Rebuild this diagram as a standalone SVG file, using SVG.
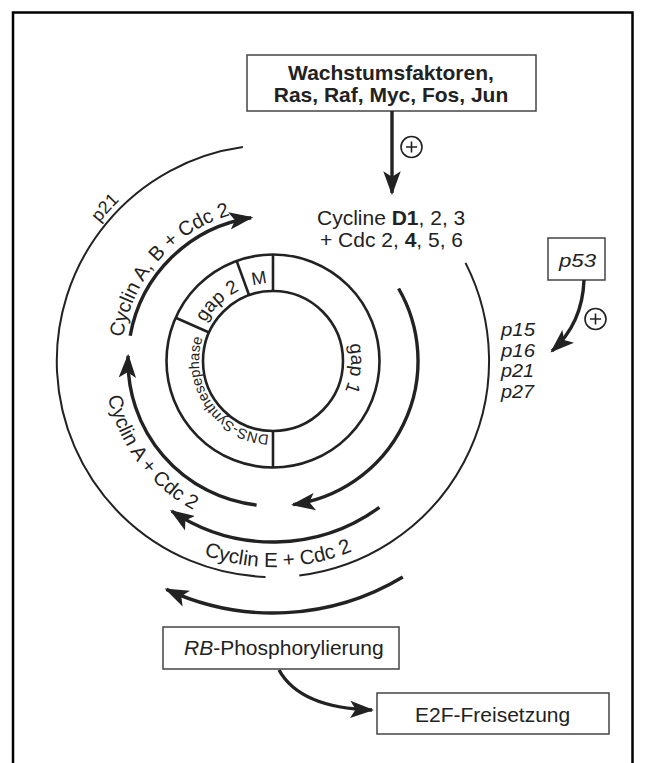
<svg xmlns="http://www.w3.org/2000/svg" width="645" height="763" viewBox="0 0 645 763">
<style>
text{font-family:"Liberation Sans",Arial,"DejaVu Sans",sans-serif;fill:#222}
.box{fill:#fff;stroke:#444;stroke-width:1.5}
.ring{fill:none;stroke:#222;stroke-width:2.6}
.arr{fill:none;stroke:#222;stroke-width:3.4;marker-end:url(#ah)}
.thin{fill:none;stroke:#222;stroke-width:2}
.lbl{font-size:20px}
.plus{fill:none;stroke:#222;stroke-width:1.6}
</style>
<defs>
<marker id="ah" markerUnits="userSpaceOnUse" markerWidth="24" markerHeight="18" viewBox="0 0 22 16" refX="20" refY="8" orient="auto">
<path d="M0,0 L22,8 L0,16 L5,8 Z" fill="#222"/>
</marker>
<path id="tpRing" d="M273,283 A78,78 0 1 1 273,439 A78,78 0 1 1 273,283"/>
<path id="tpDns" d="M273,435 A74,74 0 1 1 273,287 A74,74 0 1 1 273,435"/>
<path id="tpAB" d="M273,209 A152,152 0 1 1 273,513 A152,152 0 1 1 273,209"/>
<path id="tpP21" d="M273,139 A222,222 0 1 1 273,583 A222,222 0 1 1 273,139"/>
<path id="tpA" d="M273,192 A169,169 0 1 0 273,530 A169,169 0 1 0 273,192"/>
<path id="tpE" d="M273,155 A206,206 0 1 0 273,567 A206,206 0 1 0 273,155"/>
</defs>
<rect width="645" height="763" fill="#fff"/>
<path d="M13,763 L13,12.5 L632.5,12.5 L632.5,763" fill="none" stroke="#000" stroke-width="2.5"/>

<g id="wachstumsfaktoren">
<rect class="box" x="247" y="55" width="289" height="56"/>
<text x="391" y="80" font-size="21" font-weight="bold" text-anchor="middle">Wachstumsfaktoren,</text>
<text x="391" y="101.7" font-size="21" font-weight="bold" text-anchor="middle">Ras, Raf, Myc, Fos, Jun</text>
</g>

<g id="cyclinD">
<text x="317" y="225" font-size="21">Cycline <tspan font-weight="bold">D1</tspan>, 2, 3</text>
<text x="320" y="246.7" font-size="21">+ Cdc 2, <tspan font-weight="bold">4</tspan>, 5, 6</text>
</g>

<g id="p53">
<rect class="box" x="548" y="238" width="57" height="42"/>
<text x="577.5" y="267" font-size="19" font-style="italic" text-anchor="middle" textLength="37" lengthAdjust="spacingAndGlyphs">p53</text>
</g>

<g id="inhibitors">
<text x="501" y="336" font-size="18" font-style="italic" textLength="34" lengthAdjust="spacingAndGlyphs">p15</text>
<text x="501" y="356.7" font-size="18" font-style="italic" textLength="34" lengthAdjust="spacingAndGlyphs">p16</text>
<text x="501" y="377.3" font-size="18" font-style="italic" textLength="33" lengthAdjust="spacingAndGlyphs">p21</text>
<text x="501" y="398" font-size="18" font-style="italic" textLength="33" lengthAdjust="spacingAndGlyphs">p27</text>
</g>

<g id="cellcycle">
<circle class="ring" cx="273" cy="361" r="70"/>
<circle class="ring" cx="273" cy="361" r="106.5"/>
<path class="ring" d="M273,291 L273,254.5 M273,431 L273,467.5 M249.1,295.2 L236.6,260.9 M209.1,332.5 L175.7,317.7"/>
<text font-size="18"><textPath href="#tpRing" startOffset="476.2" text-anchor="middle">M</textPath></text>
<text font-size="19"><textPath href="#tpRing" startOffset="431" text-anchor="middle">gap 2</textPath></text>
<text font-size="19"><textPath href="#tpRing" startOffset="129.3" text-anchor="middle">gap 1</textPath></text>
<text font-size="14.5"><textPath href="#tpDns" startOffset="4">DNS-Synthesephase</textPath></text>
</g>

<g id="rb">
<rect class="box" x="163" y="627" width="236" height="42"/>
<text x="184" y="655" font-size="21"><tspan font-style="italic">RB</tspan>-Phosphorylierung</text>
</g>

<g id="e2f">
<rect class="box" x="377" y="693" width="232" height="41"/>
<text x="415" y="722" font-size="21">E2F-Freisetzung</text>
</g>

<g id="connectors">
<path class="arr" d="M392,111 L392,193"/>
<circle class="plus" cx="411.5" cy="147" r="10.5"/>
<path class="plus" stroke-width="2" d="M406,147 L417,147 M411.5,141.5 L411.5,152.5"/>
<path class="arr" d="M584,280 C583,308 573,332 552,351"/>
<circle class="plus" cx="595.5" cy="319" r="10.5"/>
<path class="plus" stroke-width="2" d="M590,319 L601,319 M595.5,313.5 L595.5,324.5"/>
<path class="arr" d="M279,670 Q300,708 372,710"/>
<path class="arr" d="M398.6,288.5 A145,145 0 0 1 293.2,504.6"/>
<path class="arr" d="M256.6,505.1 A145,145 0 0 1 128.1,355.9"/>
<path class="arr" d="M130.2,335.8 A145,145 0 0 1 251.1,217.7"/>
<path class="arr" d="M379.4,507.4 A181,181 0 0 1 171.8,511.1"/>
<path class="arr" d="M402.8,577 A252,252 0 0 1 166.5,589.4"/>
<path class="thin" d="M465.5,262.9 A216,216 0 0 1 299.3,575.4"/>
<path class="thin" d="M265.5,576.9 A216,216 0 0 1 242.9,147.1"/>
<text class="lbl"><textPath href="#tpAB" startOffset="825.6" text-anchor="middle">Cyclin A, B + Cdc 2</textPath></text>
<text class="lbl"><textPath href="#tpA" startOffset="374.6" text-anchor="middle">Cyclin A + Cdc 2</textPath></text>
<text font-size="20.5"><textPath href="#tpE" startOffset="652.5" text-anchor="middle">Cyclin E + Cdc 2</textPath></text>
<text font-size="18"><textPath href="#tpP21" startOffset="1210" text-anchor="middle">p21</textPath></text>
</g>
</svg>
